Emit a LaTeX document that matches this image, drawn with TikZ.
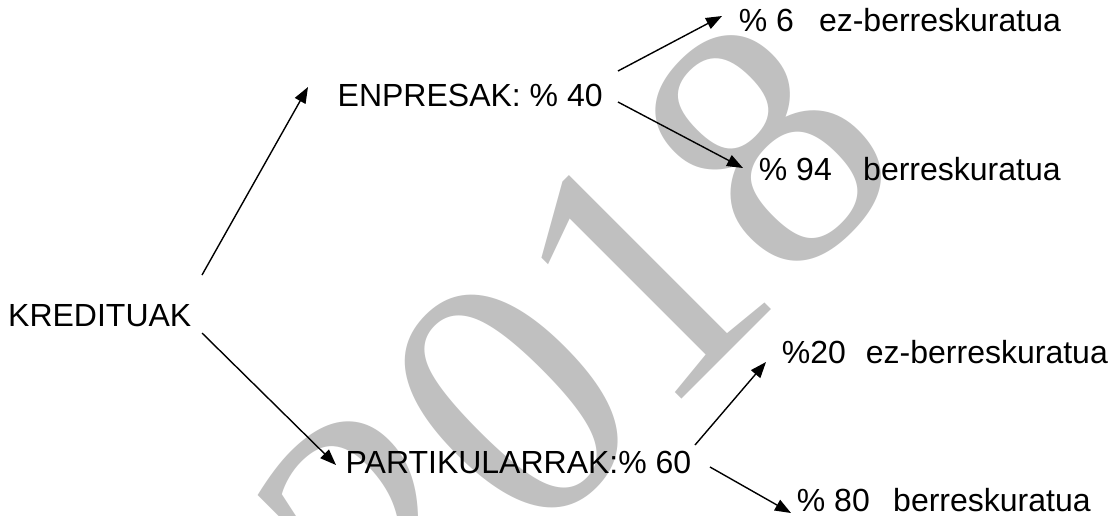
\documentclass[tikz,border=0pt]{standalone}
\usepackage{fontspec}
\setmainfont{Liberation Sans}
\newfontfamily\wmfont{Liberation Serif}
\usetikzlibrary{arrows.meta}
\definecolor{wmgray}{RGB}{192,192,192}
\begin{document}
\begin{tikzpicture}[x=1pt,y=-1pt,
  lbl/.style={inner sep=0pt,anchor=base west,font=\fontsize{32}{38}\selectfont},
  wmark/.style={inner sep=0pt,anchor=base,rotate=45,text=wmgray,font=\wmfont\fontsize{360}{360}\selectfont},
  arr/.style={line width=1.4pt,-{Triangle[length=16pt,width=12pt]}}]
\useasboundingbox (0,0) rectangle (1111,515);
\fill[white] (0,0) rectangle (1111,515);
\begin{scope}
  \clip (0,0) rectangle (1111,515);
  \node[wmark] (wm) at (659,421) {2018};
\end{scope}
\node[lbl] (K) at (8,326.5) {KREDITUAK};
\node[lbl] (E) at (337.5,106) {ENPRESAK: \% 40};
\node[lbl] (P) at (345.5,473) {PARTIKULARRAK:\% 60};
\node[lbl] (L6) at (738.7,31.5) {\% 6\hspace{25pt}ez-berreskuratua};
\node[lbl] (L94) at (758.7,180) {\% 94\hspace{31.4pt}berreskuratua};
\node[lbl] (L20) at (781.7,363) {\%20\hspace{20pt}ez-berreskuratua};
\node[lbl] (L80) at (796.7,511) {\% 80\hspace{23.4pt}berreskuratua};
\draw[arr] ([shift={(194,-51.5)}]K.base west) -- ([shift={(-29.5,-19)}]E.base west);
\draw[arr] ([shift={(194,6.5)}]K.base west) -- ([shift={(-9.5,-8)}]P.base west);
\draw[arr] ([shift={(280.5,-35)}]E.base west) -- ([shift={(-16.7,-15.5)}]L6.base west);
\draw[arr] ([shift={(280.5,-4)}]E.base west) -- ([shift={(-15.7,-12)}]L94.base west);
\draw[arr] ([shift={(349.5,-28)}]P.base west) -- ([shift={(-15.7,-1)}]L20.base west);
\draw[arr] ([shift={(364.5,-6)}]P.base west) -- ([shift={(-5.7,2)}]L80.base west);
\end{tikzpicture}
\end{document}
